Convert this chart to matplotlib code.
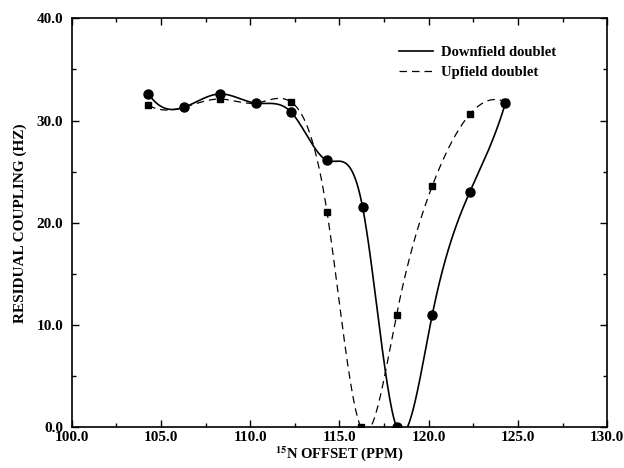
import numpy as np
import matplotlib
matplotlib.use('Agg')
from matplotlib import pyplot as plt
from matplotlib.ticker import MultipleLocator, FormatStrFormatter

# data
offset = [104.3, 106.3, 108.3, 110.3, 112.3, 114.3, 116.2, 118.2, 120.2, 122.3, 124.3]
offset_down = [104.3, 106.3, 108.3, 110.3, 112.3, 114.3, 116.3, 118.2, 120.2, 122.3, 124.3]
downfield = [32.6, 31.3, 32.6, 31.7, 30.8, 26.1, 21.5, 0.0, 11.0, 23.0, 31.7]
upfield = [31.5, 31.3, 32.1, 31.7, 31.8, 21.1, 0.0, 11.0, 23.6, 30.6, 31.8]


def spline(x, y, n=500):
    # not-a-knot cubic spline through the points (line only, markers are the data)
    x = np.asarray(x, float)
    y = np.asarray(y, float)
    k = len(x)
    h = np.diff(x)
    A = np.zeros((k, k))
    b = np.zeros(k)
    A[0, 0], A[0, 1], A[0, 2] = h[1], -(h[0] + h[1]), h[0]
    A[-1, -3], A[-1, -2], A[-1, -1] = h[-1], -(h[-2] + h[-1]), h[-2]
    for i in range(1, k - 1):
        A[i, i - 1] = h[i - 1]
        A[i, i] = 2 * (h[i - 1] + h[i])
        A[i, i + 1] = h[i]
        b[i] = 6 * ((y[i + 1] - y[i]) / h[i] - (y[i] - y[i - 1]) / h[i - 1])
    M = np.linalg.solve(A, b)
    xs = np.linspace(x[0], x[-1], n)
    idx = np.clip(np.searchsorted(x, xs) - 1, 0, k - 2)
    x0, x1 = x[idx], x[idx + 1]
    hh = x1 - x0
    ys = (M[idx] * (x1 - xs) ** 3 / (6 * hh) + M[idx + 1] * (xs - x0) ** 3 / (6 * hh)
          + (y[idx] / hh - M[idx] * hh / 6) * (x1 - xs)
          + (y[idx + 1] / hh - M[idx + 1] * hh / 6) * (xs - x0))
    return xs, ys


plt.rcParams['font.family'] = ['Liberation Serif', 'DejaVu Serif']
plt.rcParams['font.weight'] = 'bold'
plt.rcParams['mathtext.fontset'] = 'stix'

fig = plt.figure(figsize=(6.24, 4.68), dpi=100)
ax = fig.add_axes([0.115, 0.087, 0.858, 0.874])

xs, ys = spline(offset_down, downfield)
ax.plot(xs, ys, color='black', lw=1.2, ls='-', label='Downfield doublet')
ax.plot(offset_down, downfield, 'o', color='black', ms=6.5)

xs, ys = spline(offset, upfield)
ax.plot(xs, ys, color='black', lw=0.9, ls=(0, (6, 4)), label='Upfield doublet')
ax.plot(offset, upfield, 's', color='black', ms=5)

ax.set_xlim(100, 130)
ax.set_ylim(0, 40)
ax.xaxis.set_major_locator(MultipleLocator(5))
ax.xaxis.set_minor_locator(MultipleLocator(2.5))
ax.yaxis.set_major_locator(MultipleLocator(10))
ax.yaxis.set_minor_locator(MultipleLocator(5))
ax.xaxis.set_major_formatter(FormatStrFormatter('%.1f'))
ax.yaxis.set_major_formatter(FormatStrFormatter('%.1f'))
ax.tick_params(which='both', direction='in', top=True, right=True, labelsize=11, width=1)
ax.tick_params(which='major', length=5)
ax.tick_params(which='minor', length=3)
ax.tick_params(axis='x', which='major', pad=3)
ax.tick_params(axis='y', which='major', pad=6)
for s in ax.spines.values():
    s.set_linewidth(1.2)

ax.set_xlabel('$^{15}$N OFFSET (PPM)', fontsize=10.5, fontweight='bold', labelpad=0)
ax.set_ylabel('RESIDUAL COUPLING (HZ)', fontsize=11, fontweight='bold', labelpad=7)

ax.legend(loc='upper right', bbox_to_anchor=(0.93, 0.965), frameon=False,
          prop={'size': 10.5, 'weight': 'bold'}, handlelength=2.3,
          handletextpad=0.6, labelspacing=0.5)

fig.savefig('out.png', dpi=100)
